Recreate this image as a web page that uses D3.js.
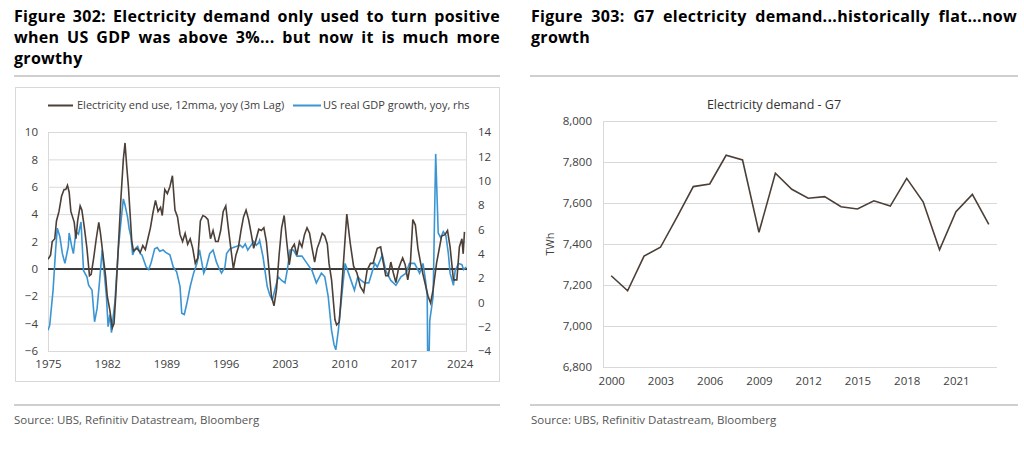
<!DOCTYPE html>
<html><head><meta charset="utf-8">
<script src="https://cdn.jsdelivr.net/npm/d3@7"></script>
<style>
body{margin:0;background:#fff;}
svg text{font-family:"Open Sans","Noto Sans",sans-serif;}
</style></head><body>
<svg id="c" width="1024" height="452"></svg>
<script>
// ---------- DATA ----------
const leftTitle = ["Figure 302: Electricity demand only used to turn positive",
                   "when US GDP was above 3%... but now it is much more",
                   "growthy"];
const rightTitle = ["Figure 303: G7 electricity demand...historically flat...now", "growth"];
const sourceText = "Source: UBS, Refinitiv Datastream, Bloomberg";
const legendLabels = ["Electricity end use, 12mma, yoy (3m Lag)", "US real GDP growth, yoy, rhs"];
const leftTicks = [-6,-4,-2,0,2,4,6,8,10];
const rightTicks = [-4,-2,0,2,4,6,8,10,12,14];
const yearTicks = [1975,1982,1989,1996,2003,2010,2017,2024];

// Electricity end use, 12mma yoy (lhs) : [year, value]
const electricity = [
[1975.0,0.7],[1975.3,1.0],[1975.5,2.0],[1975.8,2.2],[1976.0,3.5],[1976.3,4.2],[1976.6,5.3],[1976.9,5.8],
[1977.1,5.8],[1977.3,6.1],[1977.5,5.6],[1977.7,4.2],[1977.9,3.8],[1978.1,3.4],[1978.3,2.2],[1978.5,3.5],
[1978.8,4.6],[1979.0,4.3],[1979.3,3.0],[1979.6,1.5],[1979.9,-0.5],[1980.1,-0.4],[1980.4,0.8],[1980.7,2.2],
[1981.0,3.4],[1981.2,2.6],[1981.5,1.0],[1981.8,-0.5],[1982.0,-2.0],[1982.3,-3.0],[1982.6,-4.3],[1982.8,-4.0],
[1983.0,-2.0],[1983.3,1.5],[1983.6,5.0],[1983.9,8.0],[1984.1,9.2],[1984.3,7.5],[1984.5,6.0],[1984.7,4.0],
[1984.9,2.0],[1985.1,1.3],[1985.5,1.5],[1985.9,1.2],[1986.2,1.7],[1986.5,1.4],[1986.8,2.2],[1987.1,3.0],
[1987.4,4.1],[1987.7,5.0],[1988.0,4.2],[1988.3,4.5],[1988.5,3.9],[1988.8,5.8],[1989.1,5.5],[1989.4,6.0],
[1989.7,6.8],[1990.0,4.3],[1990.3,3.8],[1990.6,2.5],[1990.9,2.0],[1991.2,2.6],[1991.5,1.8],[1991.8,2.2],
[1992.1,1.5],[1992.4,0.4],[1992.7,0.8],[1993.0,3.5],[1993.3,3.9],[1993.6,3.8],[1993.9,3.6],[1994.2,2.2],
[1994.5,2.8],[1994.8,2.0],[1995.1,2.0],[1995.4,2.8],[1995.7,4.2],[1996.0,4.6],[1996.3,3.0],[1996.6,1.5],
[1996.9,0.0],[1997.2,1.0],[1997.5,1.6],[1997.8,2.8],[1998.1,3.8],[1998.4,4.3],[1998.7,3.6],[1999.0,2.6],
[1999.3,1.5],[1999.6,2.2],[1999.9,2.9],[2000.2,2.8],[2000.5,3.0],[2000.8,2.0],[2001.1,0.0],[2001.4,-2.0],
[2001.7,-2.7],[2002.0,-1.5],[2002.3,1.0],[2002.6,3.0],[2002.9,3.9],[2003.2,2.0],[2003.5,0.3],[2003.8,1.5],
[2004.1,1.8],[2004.4,1.0],[2004.7,2.0],[2005.0,1.6],[2005.3,2.5],[2005.6,3.0],[2005.9,2.6],[2006.2,1.5],
[2006.5,0.5],[2006.8,1.5],[2007.1,2.0],[2007.4,2.6],[2007.7,2.4],[2008.0,1.8],[2008.2,0.4],[2008.5,-0.8],
[2008.9,-3.7],[2009.1,-4.1],[2009.4,-3.9],[2009.6,-2.3],[2009.9,0.4],[2010.3,4.0],[2010.7,1.9],[2011.1,0.2],
[2011.5,-0.3],[2011.9,-1.3],[2012.3,-1.7],[2012.7,-0.1],[2013.1,0.4],[2013.4,0.4],[2013.9,1.5],[2014.3,1.6],
[2014.6,0.5],[2014.9,-0.5],[2015.2,-0.5],[2015.5,0.5],[2015.8,-0.3],[2016.1,-1.0],[2016.4,0.0],[2016.7,0.5],
[2016.9,0.8],[2017.2,0.3],[2017.5,-0.8],[2017.8,0.3],[2018.1,3.6],[2018.4,3.2],[2018.7,1.5],[2019.0,0.5],
[2019.3,-0.4],[2019.6,-1.2],[2019.9,-2.0],[2020.2,-2.5],[2020.5,-1.5],[2020.9,0.4],[2021.5,2.4],[2021.9,2.5],
[2022.2,2.8],[2022.5,1.6],[2022.9,-0.8],[2023.3,-0.8],[2023.6,1.6],[2023.9,2.2],[2024.05,1.1],[2024.2,2.7]
];

// US real GDP growth yoy (rhs) : [year, value]
const gdp = [
[1975.0,-2.3],[1975.2,-1.9],[1975.6,1.0],[1975.9,4.3],[1976.1,6.1],[1976.4,5.4],[1976.7,4.0],[1977.0,3.2],
[1977.4,4.6],[1977.5,5.7],[1977.8,4.6],[1978.0,4.0],[1978.3,5.8],[1978.6,5.6],[1978.9,6.6],[1979.2,2.6],
[1979.6,2.1],[1979.8,1.4],[1980.2,1.0],[1980.5,-1.6],[1980.8,-0.5],[1981.1,1.8],[1981.4,4.3],[1981.7,2.0],
[1981.9,0.5],[1982.1,-2.0],[1982.3,-1.0],[1982.5,-2.5],[1982.7,-1.2],[1982.9,0.0],[1983.3,4.3],[1983.6,6.5],
[1983.9,8.5],[1984.1,8.0],[1984.4,7.0],[1984.6,6.0],[1984.8,5.4],[1985.0,3.9],[1985.3,4.4],[1985.6,4.6],
[1985.9,4.0],[1986.1,3.9],[1986.4,3.3],[1986.6,2.9],[1986.9,2.7],[1987.2,3.3],[1987.6,4.4],[1987.9,4.5],
[1988.2,4.2],[1988.6,4.3],[1988.9,4.1],[1989.4,3.9],[1989.8,2.9],[1990.2,2.5],[1990.6,1.3],[1990.8,-0.9],
[1991.1,-1.0],[1991.4,-0.1],[1991.8,1.3],[1992.2,2.4],[1992.6,3.2],[1992.9,4.3],[1993.4,2.4],[1993.7,2.9],
[1994.1,4.0],[1994.5,4.3],[1994.9,3.3],[1995.2,2.8],[1995.5,2.4],[1995.9,2.9],[1996.1,4.0],[1996.5,4.4],
[1996.9,4.5],[1997.3,4.6],[1997.7,4.7],[1998.0,4.5],[1998.3,4.8],[1998.6,4.3],[1998.9,4.6],[1999.3,5.0],
[1999.6,4.7],[1999.9,4.9],[2000.0,5.1],[2000.4,3.75],[2000.9,1.3],[2001.2,0.6],[2001.5,0.2],[2001.9,1.3],
[2002.2,2.1],[2002.6,1.8],[2003.0,1.6],[2003.3,2.8],[2003.6,4.3],[2004.0,4.3],[2004.4,3.8],[2005.0,3.8],
[2005.6,3.2],[2006.2,2.6],[2006.7,1.6],[2007.3,2.4],[2007.7,2.1],[2008.1,0.5],[2008.5,-2.3],[2008.8,-3.5],
[2009.0,-3.9],[2009.3,-2.3],[2009.7,0.5],[2010.1,3.2],[2010.5,2.4],[2010.9,1.6],[2011.2,1.0],[2011.6,2.1],
[2012.0,1.8],[2012.4,1.6],[2012.9,1.6],[2013.6,3.2],[2013.9,2.9],[2014.5,3.9],[2014.9,2.6],[2015.5,1.8],
[2016.1,1.4],[2016.7,2.1],[2017.3,2.4],[2017.7,3.2],[2018.3,3.2],[2018.9,2.4],[2019.3,3.2],[2019.6,1.8],
[2019.8,0.5],[2019.9,-9.0],[2020.1,-1.5],[2020.5,0.5],[2020.8,12.2],[2021.1,5.7],[2021.4,5.3],[2021.7,5.8],
[2022.0,5.5],[2022.3,4.0],[2022.5,2.4],[2022.9,1.4],[2023.1,2.6],[2023.5,3.2],[2023.9,3.1],[2024.1,2.7],[2024.4,2.9]
];

// G7 electricity demand, TWh
const g7Years = [2000,2001,2002,2003,2004,2005,2006,2007,2008,2009,2010,2011,2012,2013,2014,2015,2016,2017,2018,2019,2020,2021,2022,2023];
const g7Demand = [7245,7172,7341,7384,7530,7680,7693,7833,7810,7457,7745,7667,7623,7631,7582,7571,7611,7585,7720,7606,7372,7558,7642,7496];
const g7Ticks = [6800,7000,7200,7400,7600,7800,8000];
const g7YearLabels = [2000,2003,2006,2009,2012,2015,2018,2021];

// ---------- DRAW ----------
const svg = d3.select("#c");
const BROWN = "#4b3f37", BLUE = "#3b95d3", GRID = "#d9d9d9", TXT = "#404040";

function justify(lineText, x0, x1, y, size, doJustify) {
  const g = svg.append("g");
  const words = lineText.split(" ");
  const nodes = words.map(w => g.append("text").attr("y", y).attr("font-size", size)
      .attr("font-weight", "bold").attr("letter-spacing", 0.3).attr("fill", "#000").text(w));
  const widths = nodes.map(n => n.node().getComputedTextLength());
  const total = d3.sum(widths);
  let gap = doJustify ? (x1 - x0 - total) / (words.length - 1) : size * 0.3;
  if (gap < 2) gap = 2;
  let x = x0;
  nodes.forEach((n, i) => { n.attr("x", x); x += widths[i] + gap; });
}
leftTitle.forEach((t, i) => justify(t, 14, 500, 22 + i * 21, 16, i < 2));
rightTitle.forEach((t, i) => justify(t, 531, 1017, 22 + i * 21, 16, i < 1));

// separators
[[14,500],[530,1018]].forEach(([a,b]) => {
  svg.append("line").attr("x1",a).attr("x2",b).attr("y1",76).attr("y2",76).attr("stroke","#cfcfcf").attr("stroke-width",2);
  svg.append("line").attr("x1",a).attr("x2",b).attr("y1",405).attr("y2",405).attr("stroke","#cfcfcf").attr("stroke-width",2);
});
svg.append("text").attr("x",14).attr("y",424).attr("font-size",11.5).attr("fill","#555").text(sourceText);
svg.append("text").attr("x",531).attr("y",424).attr("font-size",11.5).attr("fill","#555").text(sourceText);

// ---- Left chart ----
svg.append("rect").attr("x",15.5).attr("y",87.5).attr("width",484).attr("height",294)
  .attr("fill","none").attr("stroke",GRID);
const xL = d3.scaleLinear().domain([1975, 2024.5]).range([48, 467]);
const yL = d3.scaleLinear().domain([-6, 10]).range([351, 132]);
const yR = d3.scaleLinear().domain([-4, 14]).range([351, 132]);

const gl = svg.append("g");
gl.selectAll("line.grid").data(leftTicks).join("line")
  .attr("x1",48).attr("x2",467).attr("y1",d=>yL(d)+0.5).attr("y2",d=>yL(d)+0.5)
  .attr("stroke",GRID);
gl.append("line").attr("x1",48.5).attr("x2",48.5).attr("y1",132).attr("y2",351).attr("stroke",GRID);
gl.append("line").attr("x1",466.5).attr("x2",466.5).attr("y1",132).attr("y2",351).attr("stroke",GRID);

const axL = d3.axisLeft(yL).tickValues(leftTicks).tickSize(0).tickPadding(10).tickFormat(d3.format("d"));
const gAxL = svg.append("g").attr("transform","translate(48,0)").call(axL);
const axR = d3.axisRight(yR).tickValues(rightTicks).tickSize(0).tickPadding(11).tickFormat(d3.format("d"));
const gAxR = svg.append("g").attr("transform","translate(467,0)").call(axR);
const axX = d3.axisBottom(xL).tickValues(yearTicks).tickSize(0).tickPadding(9).tickFormat(d3.format("d"));
const gAxX = svg.append("g").attr("transform","translate(0,351)").call(axX);
[gAxL,gAxR,gAxX].forEach(g => { g.select(".domain").remove();
  g.selectAll("text").attr("font-size",11.5).attr("fill",TXT).attr("font-family",'"Open Sans","Noto Sans",sans-serif'); });
gAxX.selectAll(".tick").filter(d => d === 2024).select("text").attr("dx", -3);

svg.append("defs").append("clipPath").attr("id","clipL").append("rect")
  .attr("x",48).attr("y",120).attr("width",425).attr("height",231);

gl.append("line").attr("x1",48).attr("x2",467).attr("y1",yL(0)).attr("y2",yL(0)).attr("stroke","#000").attr("stroke-width",1.5);

const lineE = d3.line().x(d=>xL(d[0])).y(d=>yL(d[1]));
const lineG = d3.line().x(d=>xL(d[0])).y(d=>yR(d[1]));
gl.append("path").datum(gdp).attr("d",lineG).attr("fill","none").attr("stroke",BLUE)
  .attr("stroke-width",1.6).attr("clip-path","url(#clipL)");
gl.append("path").datum(electricity).attr("d",lineE).attr("fill","none").attr("stroke",BROWN)
  .attr("stroke-width",1.6).attr("clip-path","url(#clipL)");

// legend
const lg = svg.append("g");
lg.append("line").attr("x1",48).attr("x2",73).attr("y1",105.5).attr("y2",105.5).attr("stroke",BROWN).attr("stroke-width",2);
lg.append("text").attr("x",77).attr("y",109).attr("font-size",11).attr("fill",TXT).text(legendLabels[0]);
lg.append("line").attr("x1",293).attr("x2",321).attr("y1",105.5).attr("y2",105.5).attr("stroke",BLUE).attr("stroke-width",2);
lg.append("text").attr("x",323).attr("y",109).attr("font-size",11).attr("fill",TXT).text(legendLabels[1]);

// ---- Right chart ----
const xG = d3.scalePoint().domain(g7Years).range([603, 997]).padding(0.5);
const yG = d3.scaleLinear().domain([6800, 8000]).range([367, 121]);
const gr = svg.append("g");
gr.selectAll("line.grid").data(g7Ticks).join("line")
  .attr("x1",603).attr("x2",997).attr("y1",d=>Math.round(yG(d))+0.5).attr("y2",d=>Math.round(yG(d))+0.5)
  .attr("stroke",GRID);
gr.append("line").attr("x1",603.5).attr("x2",603.5).attr("y1",121).attr("y2",367).attr("stroke",GRID);
const axG = d3.axisLeft(yG).tickValues(g7Ticks).tickSize(0).tickPadding(11).tickFormat(d3.format(","));
const gAxG = svg.append("g").attr("transform","translate(603,0)").call(axG);
const axGX = d3.axisBottom(xG).tickValues(g7YearLabels).tickSize(0).tickPadding(10);
const gAxGX = svg.append("g").attr("transform","translate(0,367)").call(axGX);
[gAxG,gAxGX].forEach(g => { g.select(".domain").remove();
  g.selectAll("text").attr("font-size",11.5).attr("fill",TXT).attr("font-family",'"Open Sans","Noto Sans",sans-serif'); });
gr.append("path").datum(g7Demand.map((v,i)=>[g7Years[i],v]))
  .attr("d", d3.line().x(d=>xG(d[0])).y(d=>yG(d[1])))
  .attr("fill","none").attr("stroke",BROWN).attr("stroke-width",1.6);
svg.append("text").attr("x",774).attr("y",109).attr("text-anchor","middle").attr("font-size",12.5)
  .attr("fill","#333").text("Electricity demand - G7");
svg.append("text").attr("transform","translate(554,244) rotate(-90)").attr("text-anchor","middle")
  .attr("font-size",11).attr("fill",TXT).text("TWh");
</script></body></html>
